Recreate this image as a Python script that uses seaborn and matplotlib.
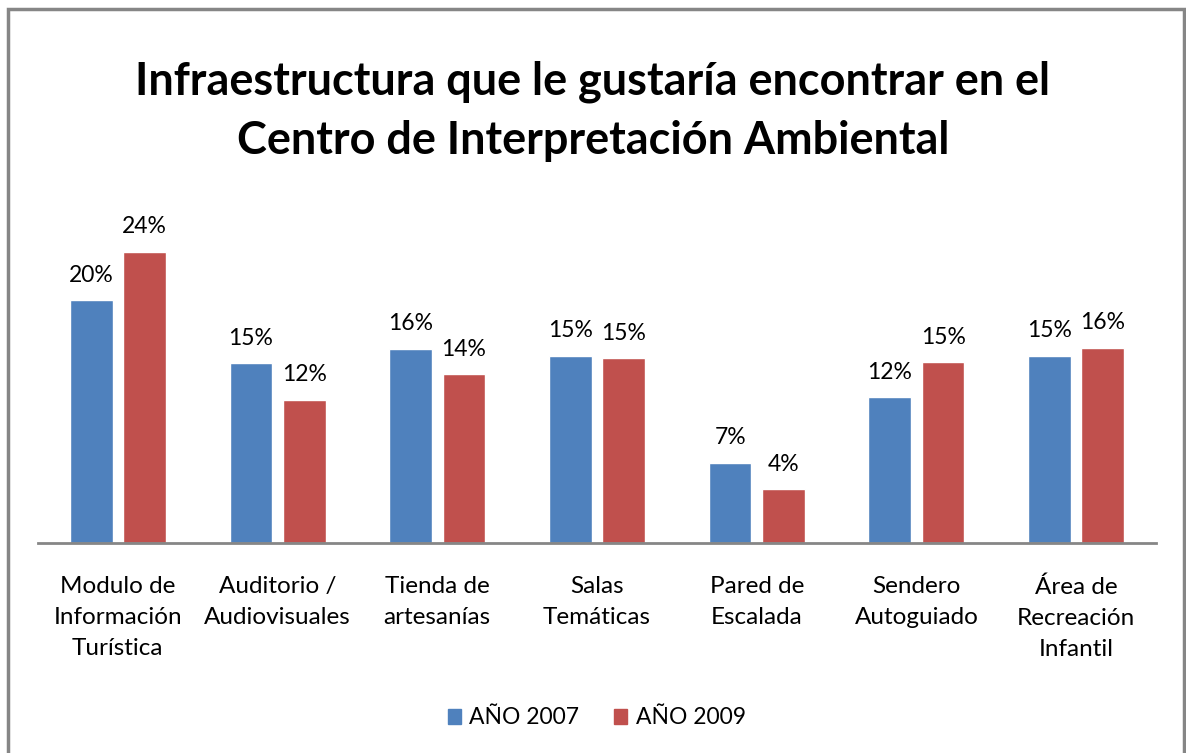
import matplotlib
matplotlib.use("Agg")
import matplotlib.pyplot as plt
import seaborn as sns
import pandas as pd
from matplotlib.patches import Rectangle

categories = ["Modulo de\nInformación\nTurística", "Auditorio /\nAudiovisuales",
              "Tienda de\nartesanías", "Salas\nTemáticas", "Pared de\nEscalada",
              "Sendero\nAutoguiado", "Área de\nRecreación\nInfantil"]
anio_2007 = [0.200, 0.148, 0.160, 0.154, 0.066, 0.120, 0.154]
anio_2009 = [0.240, 0.118, 0.139, 0.152, 0.044, 0.149, 0.161]
series = ["AÑO 2007", "AÑO 2009"]
colors = ["#4F81BD", "#C0504D"]

df = pd.DataFrame({
    "cat": categories * 2,
    "serie": [series[0]] * len(categories) + [series[1]] * len(categories),
    "valor": anio_2007 + anio_2009,
})

sns.set_style("white")
plt.rcParams["font.family"] = ["Lato", "DejaVu Sans"]
plt.rcParams["text.color"] = "black"
plt.rcParams["xtick.color"] = "black"

fig = plt.figure(figsize=(11.86, 7.53), dpi=100)
ax = fig.add_axes([38 / 1186, 1 - 542.7 / 753, 1118 / 1186, 332.7 / 753])

sns.barplot(data=df, x="cat", y="valor", hue="serie", palette=colors,
            width=0.667, gap=0.2, ax=ax, legend=False, saturation=1)

for cont in ax.containers:
    ax.bar_label(cont, labels=[f"{v:.0%}" for v in cont.datavalues],
                 padding=10.5, fontsize=16.5, color="black")

ax.set_ylim(0, 332.7 / 12.12 / 100)
ax.set_xlim(-0.5, len(categories) - 0.5)
ax.set_yticks([])
ax.set_xlabel("")
ax.set_ylabel("")
for s in ["top", "right", "left"]:
    ax.spines[s].set_visible(False)
ax.spines["bottom"].set_color("#868686")
ax.spines["bottom"].set_linewidth(2)
ax.tick_params(axis="x", length=0, pad=24, labelsize=17.5, labelcolor="black")
for t in ax.get_xticklabels():
    t.set_linespacing(1.6)

fig.text(0.5, 1 - 111.5 / 753, "Infraestructura que le gustaría encontrar en el\nCentro de Interpretación Ambiental",
         ha="center", va="center", fontsize=32.4, fontweight="bold", linespacing=1.5, color="black")

handles = [Rectangle((0, 0), 1, 1, color=c) for c in colors]
fig.legend(handles, series, loc="center", bbox_to_anchor=(0.503, 1 - 718 / 753), ncol=2,
           frameon=False, fontsize=16.5, handlelength=0.6, handleheight=0.6,
           handletextpad=0.35, columnspacing=1.5, labelcolor="black")

fig.add_artist(Rectangle((8 / 1186, -0.05), 1176 / 1186, 0.05 + (753 - 9) / 753,
                         transform=fig.transFigure, fill=False, edgecolor="#868686", linewidth=2.5))

fig.savefig("out.png", dpi=100)
